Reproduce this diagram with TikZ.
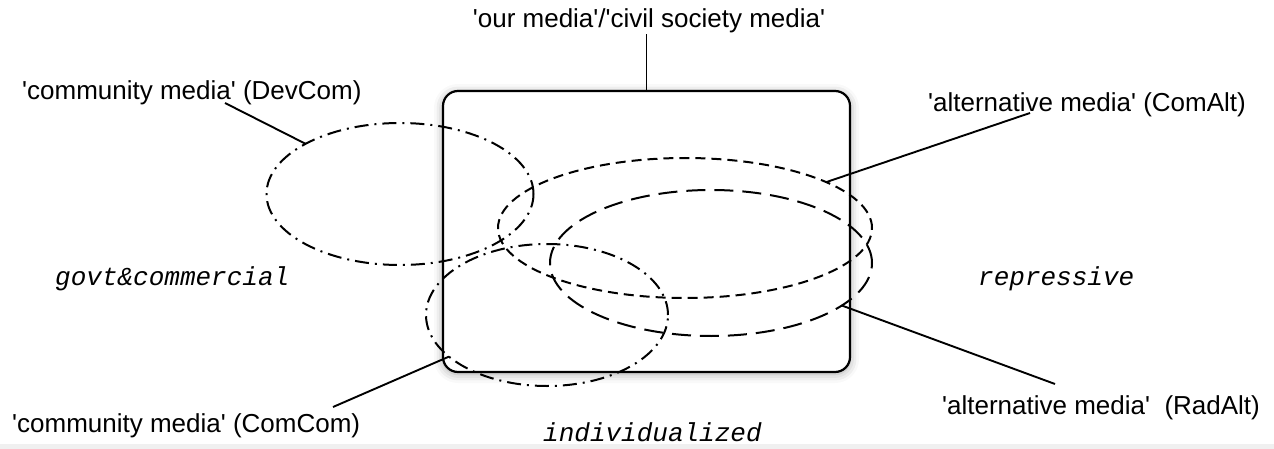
\documentclass[tikz,border=0pt]{standalone}
\usepackage{fontspec}
\setmainfont{Liberation Sans}
\setmonofont{Liberation Mono}
\usetikzlibrary{shapes.geometric,shadows.blur}
\newcommand{\sq}{\textquotesingle}
\tikzset{
  medialabel/.style={font=\fontsize{26}{30}\selectfont, inner sep=0pt, anchor=base west},
  spherelabel/.style={font=\fontsize{26}{30}\selectfont\ttfamily\itshape, inner sep=0pt, anchor=base west},
  pointer/.style={line width=1.9pt},
  mediaoval/.style={ellipse, draw, line width=2pt, inner sep=0pt, outer sep=0pt},
  dashdotoval/.style={mediaoval, dash pattern=on 14pt off 6pt on 2pt off 6pt},
  shortdashoval/.style={mediaoval, dash pattern=on 10pt off 6pt},
  longdashoval/.style={mediaoval, dash pattern=on 19pt off 9pt},
}

\begin{document}
\begin{tikzpicture}[x=1pt, y=-1pt]
  \useasboundingbox (0,0) rectangle (1274,449);
  \fill[gray!12] (0,444) rectangle (1274,449);

  % civil society box
  \node[draw, fill=white, rounded corners=15pt, line width=2.2pt, inner sep=0pt,
        minimum width=407pt, minimum height=281pt,
        blur shadow={shadow xshift=0pt, shadow yshift=-2pt, shadow blur radius=9pt, shadow opacity=35}]
        (box) at (646.5,231.5) {};

  % media ovals
  \node[dashdotoval,   minimum width=267pt, minimum height=142pt] (devcom) at (400,194) {};
  \node[shortdashoval, minimum width=374pt, minimum height=140pt] (comalt) at (685,228) {};
  \node[longdashoval,  minimum width=322pt, minimum height=146pt] (radalt) at (711,263) {};
  \node[dashdotoval,   minimum width=242pt, minimum height=142pt] (comcom) at (547,315) {};

  % labels
  \node[medialabel, anchor=base] (ourlbl) at (649,28) {\sq our media\sq/\sq civil society media\sq};
  \node[medialabel] (devcomlbl) at (22,100)  {\sq community media\sq\ (DevCom)};
  \node[medialabel] (comaltlbl) at (928,112) {\sq alternative media\sq\ (ComAlt)};
  \node[medialabel] (radaltlbl) at (942,414) {\sq alternative media\sq\ \ (RadAlt)};
  \node[medialabel] (comcomlbl) at (12,432)  {\sq community media\sq\ (ComCom)};

  \node[spherelabel] (govt)  at (55,285)  {govt\&commercial};
  \node[spherelabel] (repr)  at (978,285) {repressive};
  \node[spherelabel] (indiv) at (543,441) {individualized};

  % pointer ends at the labels
  \coordinate (devcomtip) at (225,103);
  \coordinate (comalttip) at (1030,113);
  \coordinate (radalttip) at (1055,384);
  \coordinate (comcomtip) at (333,407);

  \draw[pointer] (box.north) -- (box.north |- ourlbl.south);
  \draw[pointer] (devcomtip) -- (devcom.152);
  \draw[pointer] (comalttip) -- (comalt.18);
  \draw[pointer] (radalttip) -- (radalt.-18);
  \draw[pointer] (comcomtip) -- (comcom.-157);
\end{tikzpicture}
\end{document}
